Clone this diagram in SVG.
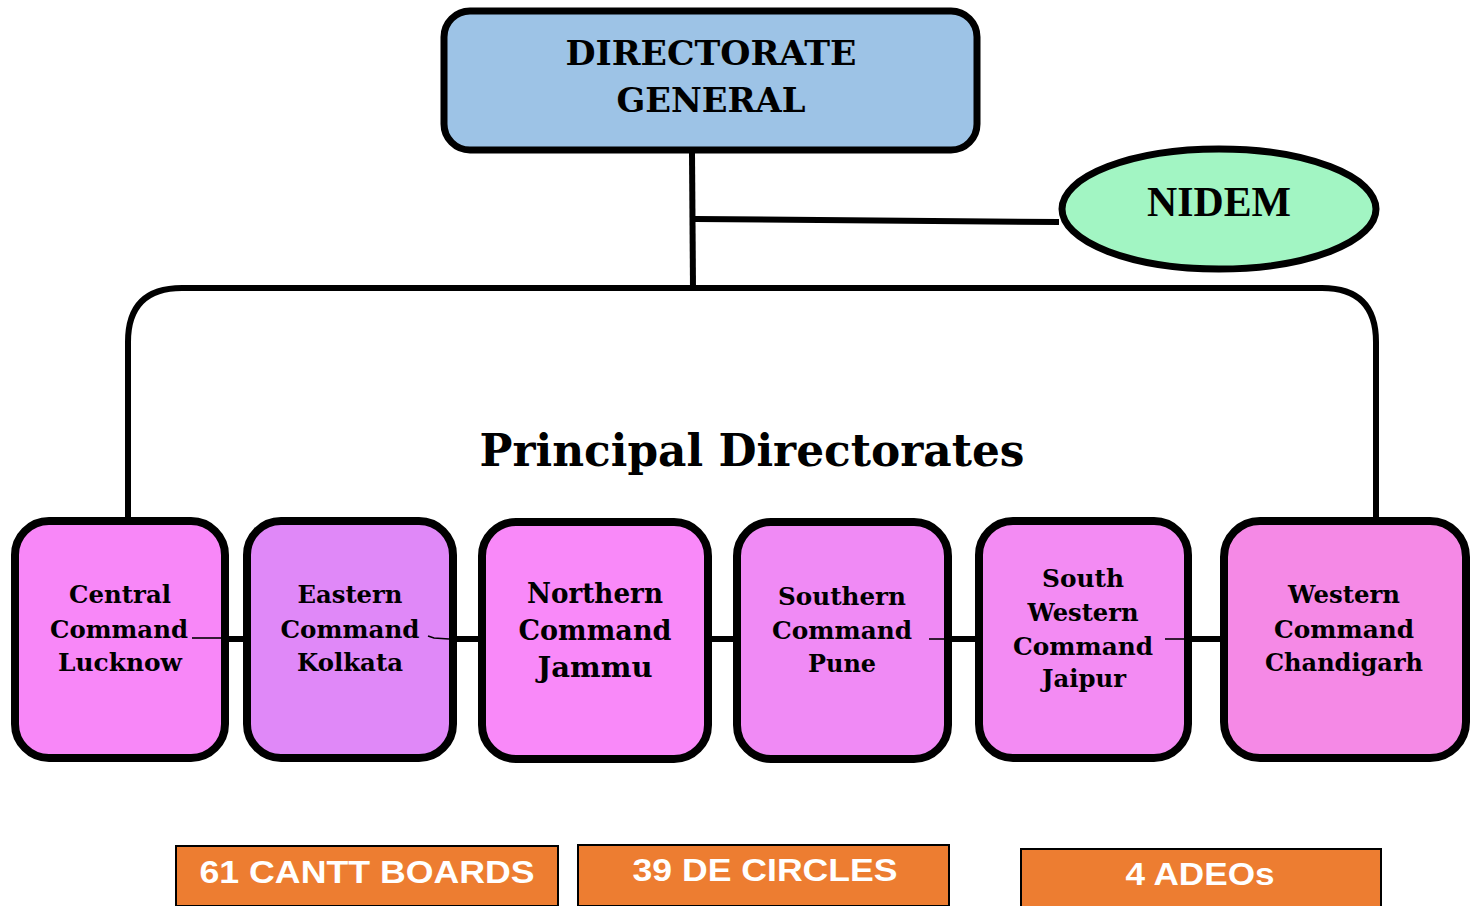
<svg xmlns="http://www.w3.org/2000/svg" width="1479" height="906" viewBox="0 0 1479 906">
<style>
.cmd{stroke:#000;stroke-width:8}
.ct{font-family:"DejaVu Serif","Liberation Serif",serif;font-weight:bold;font-size:24px;fill:#000;text-anchor:middle}
.big{font-size:27px}
.conn{fill:none;stroke:#000;stroke-width:6}
.thin{fill:none;stroke:#000;stroke-width:1.6}
.ob{fill:#ED7D31;stroke:#000;stroke-width:2}
.ot{font-family:"Liberation Sans",Arial,sans-serif;font-weight:bold;font-size:32px;fill:#fff;text-anchor:middle}
</style>
<rect width="1479" height="906" fill="#fff"/>
<g id="dg">
<rect x="444" y="11" width="533" height="139" rx="26" fill="#9DC3E6" stroke="#000" stroke-width="7"/>
<text x="711" y="65" font-family="DejaVu Serif,serif" font-weight="bold" font-size="33" text-anchor="middle" textLength="291" lengthAdjust="spacingAndGlyphs">DIRECTORATE</text>
<text x="711" y="112" font-family="DejaVu Serif,serif" font-weight="bold" font-size="33" text-anchor="middle" textLength="189" lengthAdjust="spacingAndGlyphs">GENERAL</text>
</g>
<g id="nidem">
<ellipse cx="1219" cy="209" rx="157" ry="60" fill="#A2F5C3" stroke="#000" stroke-width="7"/>
<text x="1219" y="216" font-family="Liberation Serif,serif" font-weight="bold" font-size="42" text-anchor="middle" textLength="144" lengthAdjust="spacingAndGlyphs">NIDEM</text>
</g>
<g id="principal">
<text x="752" y="466" font-family="DejaVu Serif,serif" font-weight="bold" font-size="44" text-anchor="middle" textLength="545" lengthAdjust="spacingAndGlyphs">Principal Directorates</text>
</g>
<g id="central">
<rect class="cmd" x="15" y="521" width="210" height="237" rx="34" fill="#F887F8"/>
<text class="ct" x="120" y="603" textLength="102" lengthAdjust="spacingAndGlyphs">Central</text>
<text class="ct" x="119" y="638" textLength="138" lengthAdjust="spacingAndGlyphs">Command</text>
<text class="ct" x="120" y="671" textLength="124" lengthAdjust="spacingAndGlyphs">Lucknow</text>
</g>
<g id="eastern">
<rect class="cmd" x="247" y="521" width="206" height="237" rx="34" fill="#E088F8"/>
<text class="ct" x="350" y="603" textLength="105" lengthAdjust="spacingAndGlyphs">Eastern</text>
<text class="ct" x="350" y="638" textLength="139" lengthAdjust="spacingAndGlyphs">Command</text>
<text class="ct" x="350" y="671" textLength="106" lengthAdjust="spacingAndGlyphs">Kolkata</text>
</g>
<g id="northern">
<rect class="cmd" x="482" y="522" width="226" height="237" rx="34" fill="#F989F9"/>
<text class="ct big" x="595" y="603" textLength="136" lengthAdjust="spacingAndGlyphs">Northern</text>
<text class="ct big" x="595" y="640" textLength="153" lengthAdjust="spacingAndGlyphs">Command</text>
<text class="ct big" x="595" y="677" textLength="115" lengthAdjust="spacingAndGlyphs">Jammu</text>
</g>
<g id="southern">
<rect class="cmd" x="737" y="522" width="211" height="237" rx="34" fill="#F08AF5"/>
<text class="ct" x="842" y="605" textLength="128" lengthAdjust="spacingAndGlyphs">Southern</text>
<text class="ct" x="842" y="639" textLength="140" lengthAdjust="spacingAndGlyphs">Command</text>
<text class="ct" x="842" y="672" textLength="68" lengthAdjust="spacingAndGlyphs">Pune</text>
</g>
<g id="south-western">
<rect class="cmd" x="979" y="521" width="209" height="237" rx="34" fill="#F38BF3"/>
<text class="ct" x="1083" y="587" textLength="82" lengthAdjust="spacingAndGlyphs">South</text>
<text class="ct" x="1083" y="621" textLength="111" lengthAdjust="spacingAndGlyphs">Western</text>
<text class="ct" x="1083" y="655" textLength="140" lengthAdjust="spacingAndGlyphs">Command</text>
<text class="ct" x="1084" y="687" textLength="84" lengthAdjust="spacingAndGlyphs">Jaipur</text>
</g>
<g id="western">
<rect class="cmd" x="1224" y="521" width="242" height="237" rx="36" fill="#F589E6"/>
<text class="ct" x="1344" y="603" textLength="112" lengthAdjust="spacingAndGlyphs">Western</text>
<text class="ct" x="1344" y="638" textLength="140" lengthAdjust="spacingAndGlyphs">Command</text>
<text class="ct" x="1344" y="671" textLength="158" lengthAdjust="spacingAndGlyphs">Chandigarh</text>
</g>
<g id="cantt-boards">
<rect class="ob" x="176" y="846" width="382" height="60"/>
<text class="ot" x="367" y="883" textLength="335" lengthAdjust="spacingAndGlyphs">61 CANTT BOARDS</text>
</g>
<g id="de-circles">
<rect class="ob" x="578" y="845" width="371" height="61"/>
<text class="ot" x="765" y="881" textLength="265" lengthAdjust="spacingAndGlyphs">39 DE CIRCLES</text>
</g>
<g id="adeos">
<rect class="ob" x="1021" y="849" width="360" height="60"/>
<text class="ot" x="1200" y="885" textLength="149" lengthAdjust="spacingAndGlyphs">4 ADEOs</text>
</g>
<g id="connectors">
<line class="conn" x1="692" y1="153" x2="693" y2="288" stroke-width="5"/>
<line class="conn" x1="695" y1="219" x2="1059" y2="222" stroke-width="6"/>
<path class="conn" d="M128,517 V342 Q128,288 182,288 H1322 Q1376,288 1376,342 V517"/>
<line class="conn" x1="229" y1="639" x2="243" y2="639"/>
<line class="conn" x1="457" y1="639" x2="478" y2="639"/>
<line class="conn" x1="712" y1="639" x2="733" y2="639"/>
<line class="conn" x1="952" y1="639" x2="975" y2="639"/>
<line class="conn" x1="1192" y1="639" x2="1220" y2="639"/>
<line class="thin" x1="192" y1="638" x2="221" y2="638"/>
<polyline class="thin" points="428,636 434,638 449,639" stroke-width="2.5"/>
<line class="thin" x1="929" y1="639" x2="944" y2="639" stroke-width="2.5"/>
<line class="thin" x1="1165" y1="639" x2="1184" y2="639" stroke-width="2"/>
</g>
</svg>
